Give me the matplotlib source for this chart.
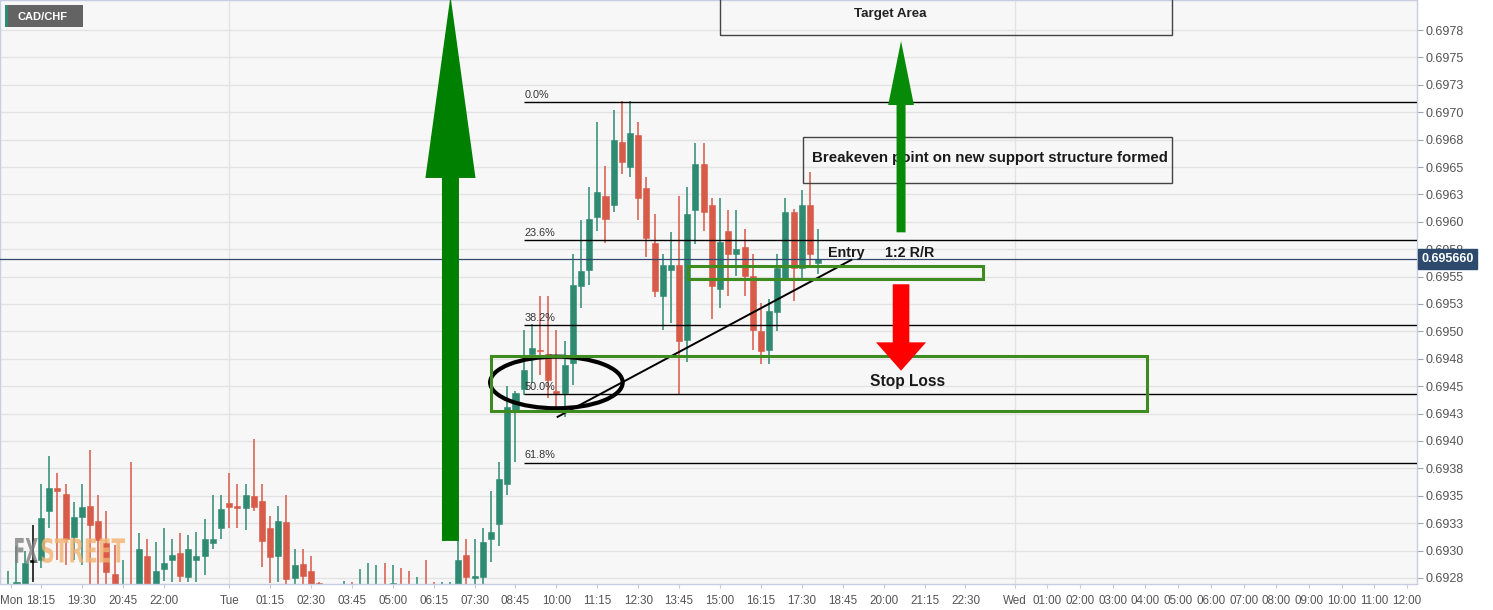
import matplotlib
matplotlib.use('Agg')
import matplotlib.pyplot as plt
from matplotlib.patches import Rectangle, Ellipse, Polygon, PathPatch
from matplotlib.textpath import TextPath
from matplotlib.font_manager import FontProperties
from matplotlib.transforms import Affine2D, blended_transform_factory
import numpy as np

plt.rcParams['font.family'] = ['Liberation Sans', 'DejaVu Sans']

# ---------------- data: CAD/CHF 15-minute candles (Mon 17:15 -> Tue 18:00) -------------
opens = [0.69262, 0.69268, 0.69262, 0.69290, 0.69291, 0.69336, 0.69357, 0.69352, 0.69312, 0.69331,
         0.69341, 0.69327, 0.69307, 0.69279, 0.69255, 0.69266, 0.69262, 0.69295, 0.69264, 0.69283,
         0.69291, 0.69298, 0.69276, 0.69291, 0.69295, 0.69307, 0.69321, 0.69343, 0.69341, 0.69339,
         0.69350, 0.69345, 0.69321, 0.69295, 0.69326, 0.69275, 0.69288, 0.69281, 0.69270, 0.69262,
         0.69258, 0.69259, 0.69263, 0.69258, 0.69261, 0.69262, 0.69265, 0.69269, 0.69266, 0.69263,
         0.69258, 0.69263, 0.69260, 0.69257, 0.69260, 0.69264, 0.69296, 0.69275, 0.69276, 0.69311,
         0.69324, 0.69361, 0.69428, 0.69447, 0.69479, 0.69483, 0.69479, 0.69445, 0.69444, 0.69471,
         0.69541, 0.69556, 0.69604, 0.69624, 0.69615, 0.69673, 0.69650, 0.69679, 0.69631, 0.69581,
         0.69532, 0.69556, 0.69561, 0.69492, 0.69611, 0.69653, 0.69615, 0.69539, 0.69592, 0.69571,
         0.69577, 0.69551, 0.69500, 0.69483, 0.69518, 0.69549, 0.69609, 0.69558, 0.69615, 0.69562]
highs = [0.69281, 0.69304, 0.69300, 0.69323, 0.69361, 0.69386, 0.69371, 0.69361, 0.69344, 0.69361,
         0.69392, 0.69351, 0.69336, 0.69305, 0.69291, 0.69381, 0.69316, 0.69311, 0.69308, 0.69321,
         0.69311, 0.69316, 0.69314, 0.69317, 0.69329, 0.69351, 0.69351, 0.69371, 0.69361, 0.69361,
         0.69402, 0.69361, 0.69332, 0.69341, 0.69351, 0.69301, 0.69301, 0.69295, 0.69271, 0.69266,
         0.69265, 0.69272, 0.69271, 0.69283, 0.69289, 0.69287, 0.69289, 0.69287, 0.69284, 0.69281,
         0.69276, 0.69291, 0.69271, 0.69271, 0.69271, 0.69311, 0.69311, 0.69311, 0.69321, 0.69354,
         0.69381, 0.69450, 0.69446, 0.69501, 0.69507, 0.69532, 0.69532, 0.69501, 0.69491, 0.69571,
         0.69602, 0.69632, 0.69691, 0.69651, 0.69702, 0.69710, 0.69710, 0.69691, 0.69641, 0.69607,
         0.69571, 0.69591, 0.69624, 0.69632, 0.69672, 0.69672, 0.69622, 0.69622, 0.69611, 0.69611,
         0.69593, 0.69571, 0.69526, 0.69530, 0.69571, 0.69622, 0.69612, 0.69629, 0.69645, 0.69593]
lows = [0.69255, 0.69255, 0.69255, 0.69271, 0.69284, 0.69321, 0.69291, 0.69287, 0.69291, 0.69287,
        0.69255, 0.69262, 0.69260, 0.69255, 0.69250, 0.69255, 0.69258, 0.69258, 0.69258, 0.69272,
        0.69271, 0.69271, 0.69271, 0.69271, 0.69278, 0.69301, 0.69311, 0.69321, 0.69321, 0.69319,
        0.69336, 0.69285, 0.69270, 0.69271, 0.69268, 0.69268, 0.69268, 0.69265, 0.69262, 0.69250,
        0.69252, 0.69252, 0.69252, 0.69250, 0.69252, 0.69254, 0.69254, 0.69260, 0.69254, 0.69252,
        0.69250, 0.69250, 0.69249, 0.69250, 0.69252, 0.69258, 0.69265, 0.69265, 0.69266, 0.69290,
        0.69304, 0.69351, 0.69381, 0.69442, 0.69453, 0.69460, 0.69439, 0.69431, 0.69422, 0.69451,
        0.69521, 0.69542, 0.69592, 0.69581, 0.69609, 0.69644, 0.69641, 0.69602, 0.69568, 0.69531,
        0.69501, 0.69508, 0.69442, 0.69472, 0.69580, 0.69592, 0.69511, 0.69521, 0.69532, 0.69551,
        0.69532, 0.69483, 0.69470, 0.69470, 0.69500, 0.69547, 0.69528, 0.69546, 0.69558, 0.69552]
closes = [0.69266, 0.69271, 0.69289, 0.69290, 0.69330, 0.69357, 0.69354, 0.69311, 0.69331, 0.69340,
          0.69323, 0.69310, 0.69280, 0.69262, 0.69264, 0.69260, 0.69301, 0.69263, 0.69281, 0.69289,
          0.69296, 0.69277, 0.69301, 0.69295, 0.69311, 0.69311, 0.69338, 0.69340, 0.69339, 0.69351,
          0.69340, 0.69309, 0.69294, 0.69327, 0.69274, 0.69287, 0.69277, 0.69268, 0.69266, 0.69258,
          0.69261, 0.69263, 0.69260, 0.69262, 0.69264, 0.69265, 0.69262, 0.69270, 0.69262, 0.69259,
          0.69262, 0.69259, 0.69257, 0.69261, 0.69263, 0.69291, 0.69276, 0.69277, 0.69308, 0.69317,
          0.69365, 0.69431, 0.69444, 0.69465, 0.69485, 0.69482, 0.69456, 0.69444, 0.69469, 0.69542,
          0.69555, 0.69603, 0.69627, 0.69603, 0.69675, 0.69655, 0.69681, 0.69622, 0.69585, 0.69537,
          0.69561, 0.69561, 0.69491, 0.69607, 0.69653, 0.69609, 0.69541, 0.69582, 0.69571, 0.69575,
          0.69551, 0.69501, 0.69482, 0.69519, 0.69558, 0.69609, 0.69558, 0.69615, 0.69571, 0.69566]

last_price = 0.69566
last_price_label = '0.695660'

# Fibonacci retracement (0% at swing high, 100% at swing low)
fib_high = 0.69709
fib_low = 0.69177
fib_levels = [0.0, 23.6, 38.2, 50.0, 61.8]

# axis ticks
y_tick_values = [0.69775, 0.69750, 0.69725, 0.69700, 0.69675, 0.69650, 0.69625, 0.69600, 0.69575,
                 0.69550, 0.69525, 0.69500, 0.69475, 0.69450, 0.69425, 0.69400, 0.69375, 0.69350,
                 0.69325, 0.69300, 0.69275]
y_tick_labels = ['0.6978', '0.6975', '0.6973', '0.6970', '0.6968', '0.6965', '0.6963', '0.6960',
                 '0.6958', '0.6955', '0.6953', '0.6950', '0.6948', '0.6945', '0.6943', '0.6940',
                 '0.6938', '0.6935', '0.6933', '0.6930', '0.6928']
# minutes after Mon 17:15 for each time label
x_tick_labels = ['Mon', '18:15', '19:30', '20:45', '22:00', 'Tue', '01:15', '02:30', '03:45', '05:00',
                 '06:15', '07:30', '08:45', '10:00', '11:15', '12:30', '13:45', '15:00', '16:15',
                 '17:30', '18:45', '20:00', '21:15', '22:30', 'Wed', '01:00', '02:00', '03:00',
                 '04:00', '05:00', '06:00', '07:00', '08:00', '09:00', '10:00', '11:00', '12:00']
x_tick_minutes = [5, 60, 135, 210, 285, 405, 480, 555, 630, 705,
                  780, 855, 930, 1005, 1080, 1155, 1230, 1305, 1380,
                  1455, 1530, 1605, 1680, 1755, 1845, 1905, 1965, 2025,
                  2085, 2145, 2205, 2265, 2325, 2385, 2445, 2505, 2565]
day_break_minutes = [405, 1845]
bar_minutes = 15

GREEN = '#2f8a72'
RED = '#d85a48'
BOX_GREEN = '#3e8b20'

fig = plt.figure(figsize=(14.93, 6.10), dpi=100, facecolor='white')
ax = fig.add_axes([0, 26 / 610, 1417 / 1493, 584 / 610])
ax.set_facecolor('#f7f7f7')
ax.set_xlim(-1.015, 172.2)
ax.set_ylim(0.692695, 0.698024)

# grid
ax.set_yticks(y_tick_values, y_tick_labels)
ax.yaxis.tick_right()
ax.grid(axis='y', color='#e3e3e3', lw=1, zorder=0)
ax.set_axisbelow(True)
for m in day_break_minutes:
    ax.axvline(m / bar_minutes, color='#e3e3e3', lw=1, zorder=0.5)

xpos = [m / bar_minutes for m in x_tick_minutes]
ax.set_xticks(xpos, x_tick_labels)

ax.tick_params(axis='y', which='both', right=True, left=False, length=4, width=0.8,
               color='#9ea4b5', labelsize=9, labelcolor='#555555', pad=2)
ax.tick_params(axis='x', length=3, width=0.8, color='#c2c7da', labelsize=8.4,
               labelcolor='#555555', pad=5)
for s in ax.spines.values():
    s.set_color('#c8cde0')
    s.set_linewidth(1)

# candles
for i, (o, h, l, c) in enumerate(zip(opens, highs, lows, closes)):
    col = GREEN if c > o else (RED if c < o else 'black')
    ax.vlines(i, l, h, color=col, lw=1.1, zorder=2)
    body = max(abs(c - o), 1.3e-5)
    ax.add_patch(Rectangle((i - 0.37, min(o, c)), 0.74, body, fc=col, ec=col, lw=0.4, zorder=2.1))

# fib lines
fib_start = 63.0
for p in fib_levels:
    v = fib_high - p / 100.0 * (fib_high - fib_low)
    ax.hlines(v, fib_start, 172.2, color='black', lw=1.0, zorder=3)
    ax.text(fib_start + 0.1, v + 2.0e-5, f'{p:.1f}%', fontsize=7.8, color='#333333',
            ha='left', va='bottom', zorder=3)

# current price line
ax.axhline(last_price, color='#2f4a6e', lw=0.9, zorder=3)
ax.text(1.003, last_price, last_price_label,
        transform=blended_transform_factory(ax.transAxes, ax.transData),
        ha='left', va='center', color='white', fontsize=9, fontweight='bold',
        bbox=dict(boxstyle='square,pad=0.3', fc='#2d4a6d', ec='#2d4a6d'),
        clip_on=False, zorder=10)

# trend line and ellipse
ax.plot([67.04, 103.14], [0.694216, 0.695656], color='black', lw=1.4, zorder=4, solid_capstyle='butt')
ax.add_patch(Ellipse((67.0, 0.694534), 16.2, 0.000471, fill=False, ec='black', lw=3.0, zorder=5))

# boxes
ax.add_patch(Rectangle((59.0, 0.694274), 80.2, 0.000502, fill=False, ec=BOX_GREEN, lw=2.2, zorder=5))
ax.add_patch(Rectangle((83.04, 0.695475), 36.16, 0.000122, fill=False, ec=BOX_GREEN, lw=2.2, zorder=5))
ax.add_patch(Rectangle((87.0, 0.697704), 55.2, 0.00040, fill=False, ec='#444444', lw=1.0, zorder=5))
ax.add_patch(Rectangle((97.1, 0.696351), 45.1, 0.000420, fill=False, ec='#444444', lw=1.0, zorder=5))


def varrow(cx, y0, yb, ytip, sw, hw, color):
    pts = [(cx - sw, y0), (cx - sw, yb), (cx - hw, yb), (cx, ytip),
           (cx + hw, yb), (cx + sw, yb), (cx + sw, y0)]
    ax.add_patch(Polygon(pts, closed=True, fc=color, ec='none', zorder=6))


varrow(54.05, 0.693088, 0.696400, 0.69806, 1.04, 3.06, '#008000')
varrow(109.13, 0.695904, 0.697066, 0.697650, 0.55, 1.57, '#078a07')
varrow(109.13, 0.695430, 0.694900, 0.694641, 1.015, 3.06, '#ff0000')

# texts
ax.text(107.8, 0.697896, 'Target Area', fontsize=9.6, fontweight='bold', color='#222222',
        ha='center', va='center', zorder=7)
ax.text(98.2, 0.696585, 'Breakeven point on new support structure formed', fontsize=10.8,
        fontweight='bold', color='#1a1a1a', ha='left', va='center', zorder=5.5)
ax.text(100.2, 0.695713, 'Entry', fontsize=10.3, fontweight='bold', color='#1a1a1a',
        ha='left', va='center', zorder=7)
ax.text(107.2, 0.695713, '1:2 R/R', fontsize=10.3, fontweight='bold', color='#1a1a1a',
        ha='left', va='center', zorder=7)
ax.text(109.9, 0.694541, 'Stop Loss', fontsize=11.2, fontweight='bold', color='#1a1a1a',
        ha='center', va='center', zorder=7)


# watermark
def squashed_text(s, x0, x1, y0, y1, color, alpha):
    tp = TextPath((0, 0), s, size=10, prop=FontProperties(family='DejaVu Sans', weight='bold'))
    ext = tp.get_extents()
    tr = (Affine2D().translate(-ext.x0, -ext.y0)
          .scale((x1 - x0) / ext.width, (y1 - y0) / ext.height)
          .translate(x0, y0) + ax.transData)
    ax.add_patch(PathPatch(tp, transform=tr, fc=color, ec='none', alpha=alpha, zorder=6))


squashed_text('FX', 0.82, 3.63, 0.692887, 0.693115, '#808080', 0.8)
squashed_text('STREET', 4.08, 14.27, 0.692887, 0.693115, '#f1b371', 0.8)

# symbol label
fig.add_artist(Rectangle((5 / 1493, 1 - 27 / 610), 78 / 1493, 22 / 610, transform=fig.transFigure,
                         fc='#636363', ec='none', zorder=10))
fig.add_artist(Rectangle((5 / 1493, 1 - 27 / 610), 2.5 / 1493, 22 / 610, transform=fig.transFigure,
                         fc=GREEN, ec='none', zorder=11))
fig.text(17 / 1493, 1 - 16.5 / 610, 'CAD/CHF', color='white', fontsize=8, fontweight='bold',
         ha='left', va='center', zorder=12)

fig.savefig('out.png', dpi=100, facecolor='white')
